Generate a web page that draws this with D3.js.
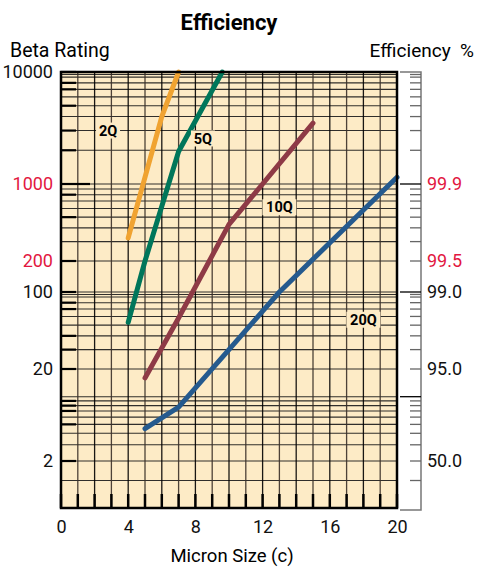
<!DOCTYPE html>
<html>
<head>
<meta charset="utf-8">
<script src="https://cdn.jsdelivr.net/npm/d3@7"></script>
<style>
  body { margin: 0; background: #fff; }
  svg text { font-family: Roboto, "DejaVu Sans", sans-serif; }
</style>
</head>
<body>
<div id="chart_area"></div>
<script>
// data
var microns = [0, 4, 8, 12, 16, 20];
var betaTicks = [10000, 1000, 200, 100, 20, 2];
var betaRed = [1000, 200];
var effTicks = [99.9, 99.5, 99.0, 95.0, 50.0];
var effRed = [99.9, 99.5];
var gridBeta = [1.5, 2, 3, 4, 5, 6, 7, 8, 9, 10, 20, 30, 40, 50, 60, 70, 80, 90, 95, 100,
  200, 300, 400, 500, 600, 700, 800, 900, 1000, 2000, 3000, 4000, 5000, 6000, 7000, 8000, 9000, 9500, 10000];
var thickBeta = [2, 5, 7, 8, 9, 20, 30, 40, 70, 80, 100, 200, 500, 800, 1000, 2000, 3000, 5000, 7000, 8000, 10000];
var longBeta = [10, 100, 1000];

var series = [
  { name: "2Q", color: "#f0a331", x: [4, 6, 7], beta: [324, 4000, 10000], lx: 2.8, lb: 3000 },
  { name: "5Q", color: "#00765a", x: [4, 5, 7, 9.6], beta: [53, 200, 1950, 10000], lx: 8.45, lb: 2550 },
  { name: "10Q", color: "#8e3a46", x: [5, 7, 10, 12, 15], beta: [16, 58, 430, 1000, 3500], lx: 13.0, lb: 615 },
  { name: "20Q", color: "#255a8e", x: [5, 7, 13, 20], beta: [4.5, 7.7, 100, 1150], lx: 18.0, lb: 56 }
];

var svg = d3.select("#chart_area")
  .append("svg")
  .attr("width", 478)
  .attr("height", 567);

var x = d3.scaleLinear().domain([0, 20]).range([61, 397]);
var y = d3.scaleLog()
  .domain([1, 2, 20, 100, 200, 1000, 10000])
  .range([508, 461, 369, 292, 261, 184, 72]);

function effToBeta(e) { return 1 / (1 - e / 100); }

// plot background
svg.append("rect")
  .attr("x", x(0)).attr("y", y(10000))
  .attr("width", x(20) - x(0)).attr("height", y(1) - y(10000))
  .attr("fill", "#fdebc6");

// horizontal grid
svg.append("g").selectAll("line")
  .data(gridBeta)
  .enter().append("line")
  .attr("x1", x(0)).attr("x2", x(20))
  .attr("y1", function(d) { return y(d); })
  .attr("y2", function(d) { return y(d); })
  .attr("stroke", "#1a1a1a")
  .attr("stroke-opacity", 0.9)
  .attr("stroke-width", 1.1);

// vertical grid
svg.append("g").selectAll("line")
  .data(d3.range(1, 20))
  .enter().append("line")
  .attr("x1", function(d) { return x(d); })
  .attr("x2", function(d) { return x(d); })
  .attr("y1", y(10000)).attr("y2", y(1))
  .attr("stroke", function(d) { return d % 2 ? "#3a3028" : "#000"; })
  .attr("stroke-opacity", 0.9)
  .attr("stroke-width", 1.3);

// thick ticks on left edge
svg.append("g").selectAll("line")
  .data(thickBeta)
  .enter().append("line")
  .attr("x1", x(0))
  .attr("x2", function(d) { return d == 1000 ? x(0) + 29 : x(0) + 15; })
  .attr("y1", function(d) { return y(d); })
  .attr("y2", function(d) { return y(d); })
  .attr("stroke", "#000")
  .attr("stroke-width", 2.2);

// thick ticks on bottom edge
svg.append("g").selectAll("line")
  .data(d3.range(0, 21))
  .enter().append("line")
  .attr("x1", function(d) { return x(d); })
  .attr("x2", function(d) { return x(d); })
  .attr("y1", y(1) - 14).attr("y2", y(1))
  .attr("stroke", "#000")
  .attr("stroke-width", 2.5);

// series lines
var line = d3.line()
  .x(function(d) { return x(d[0]); })
  .y(function(d) { return y(d[1]); });

svg.append("g").selectAll("path")
  .data(series)
  .enter().append("path")
  .attr("d", function(s) { return line(d3.zip(s.x, s.beta)); })
  .attr("fill", "none")
  .attr("stroke", function(s) { return s.color; })
  .attr("stroke-width", 5)
  .attr("stroke-linecap", "round")
  .attr("stroke-linejoin", "round");

// series labels
var lab = svg.append("g").selectAll("g")
  .data(series)
  .enter().append("g")
  .attr("transform", function(s) { return "translate(" + x(s.lx) + "," + y(s.lb) + ")"; });
lab.append("rect")
  .attr("x", function(s) { return -s.name.length * 5 - 2; })
  .attr("y", -8)
  .attr("width", function(s) { return s.name.length * 10 + 4; })
  .attr("height", 16)
  .attr("fill", "#fdebc6");
lab.append("text")
  .attr("text-anchor", "middle")
  .attr("dy", "0.36em")
  .style("font-size", "14.5px")
  .style("font-weight", "bold")
  .text(function(s) { return s.name; });

// plot border
svg.append("rect")
  .attr("x", x(0)).attr("y", y(10000))
  .attr("width", x(20) - x(0)).attr("height", y(1) - y(10000))
  .attr("fill", "none")
  .attr("stroke", "#000")
  .attr("stroke-width", 2.5);

// right efficiency scale
var rx = 421;
var right = svg.append("g");
right.append("path")
  .attr("d", "M400," + y(10000) + "H" + rx + "V" + (y(1) + 2) + "H400")
  .attr("fill", "none")
  .attr("stroke", "#777")
  .attr("stroke-width", 1.5);
right.selectAll("line")
  .data(gridBeta.filter(function(d) { return d < 10000; }))
  .enter().append("line")
  .attr("x1", function(d) { return longBeta.indexOf(d) >= 0 ? 400 : rx - 11; })
  .attr("x2", rx)
  .attr("y1", function(d) { return y(d); })
  .attr("y2", function(d) { return y(d); })
  .attr("stroke", function(d) { return longBeta.indexOf(d) >= 0 ? "#000" : "#666"; })
  .attr("stroke-width", 1.3);

// axes
var xAxis = svg.append("g")
  .attr("transform", "translate(0," + (y(1) + 9) + ")")
  .call(d3.axisBottom(x).tickValues(microns).tickSize(0));
xAxis.select(".domain").remove();
xAxis.selectAll("text").style("font-size", "18px").attr("fill", "#111");

var yAxis = svg.append("g")
  .attr("transform", "translate(" + (x(0) - 5) + ",0)")
  .call(d3.axisLeft(y).tickValues(betaTicks).tickFormat(d3.format("d")).tickSize(0));
yAxis.select(".domain").remove();
yAxis.selectAll("text")
  .style("font-size", "18px")
  .attr("fill", function(d) { return betaRed.indexOf(d) >= 0 ? "#e2173f" : "#111"; });

var effScale = function(e) { return y(effToBeta(e)); };
var rAxis = svg.append("g").attr("transform", "translate(" + (rx + 6) + ",0)");
rAxis.selectAll("text")
  .data(effTicks)
  .enter().append("text")
  .attr("x", 0)
  .attr("y", function(e) { return effScale(e); })
  .attr("dy", "0.36em")
  .style("font-size", "18px")
  .attr("fill", function(e) { return effRed.indexOf(e) >= 0 ? "#e2173f" : "#111"; })
  .text(function(e) { return d3.format(".1f")(e); });

// titles
svg.append("text")
  .attr("x", 229).attr("y", 30)
  .attr("text-anchor", "middle")
  .style("font-size", "22px")
  .style("font-weight", "bold")
  .text("Efficiency");
svg.append("text")
  .attr("x", 10).attr("y", 57)
  .style("font-size", "19.5px")
  .text("Beta Rating");
svg.append("text")
  .attr("x", 474).attr("y", 57)
  .attr("text-anchor", "end")
  .style("font-size", "19px")
  .style("white-space", "pre")
  .text("Efficiency  %");
svg.append("text")
  .attr("x", 232).attr("y", 562)
  .attr("text-anchor", "middle")
  .style("font-size", "18.5px")
  .text("Micron Size (c)");
</script>
</body>
</html>
